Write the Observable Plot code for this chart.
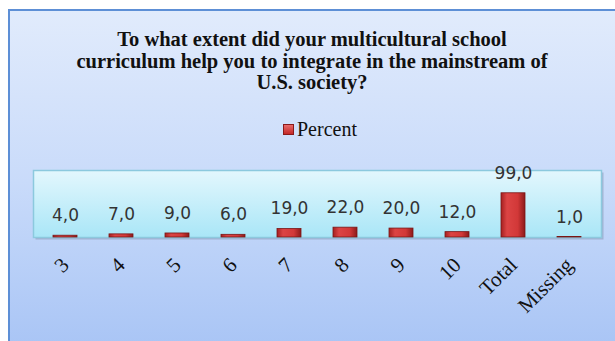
<!DOCTYPE html>
<html>
<head>
<meta charset="utf-8">
<script src="https://cdn.jsdelivr.net/npm/d3@7"></script>
<script src="https://cdn.jsdelivr.net/npm/@observablehq/plot@0.6"></script>
<style>
  html, body { margin: 0; padding: 0; background: #ffffff; }
  #wrap { position: relative; width: 615px; height: 341px; overflow: hidden; }
  #box {
    position: absolute; left: 8px; top: 9px; width: 620px; height: 345px;
    box-sizing: border-box; border: 2px solid #5d8fd6;
    background: linear-gradient(to bottom, #e1ebfc 0%, #c9dbfa 50%, #a8c4f5 100%);
  }
  #title {
    position: absolute; left: 7px; top: 29px; width: 610px; text-align: center;
    font-family: "Times New Roman", "Liberation Serif", "DejaVu Serif", serif; font-weight: bold; font-size: 20.5px;
    line-height: 21.5px; color: #111;
  }
  #legend {
    position: absolute; left: 283px; top: 119px; height: 20px;
    font-family: "Times New Roman", "Liberation Serif", "DejaVu Serif", serif; font-size: 20px; color: #111;
    display: flex; align-items: center;
  }
  #legend .sw {
    width: 11px; height: 11px; margin-right: 3px; box-sizing: border-box;
    background: linear-gradient(to bottom, #e86a6a, #c42828); border: 1px solid #8a1a1a;
  }
  #chart { position: absolute; left: 0; top: 150px; }
</style>
</head>
<body>
<div id="wrap">
  <div id="box"></div>
  <div id="title">To what extent did your multicultural school<br>curriculum help you to integrate in the mainstream of<br>U.S. society?</div>
  <div id="legend"><span class="sw"></span><span>Percent</span></div>
  <div id="chart"></div>
</div>
<script>
const categories = ["3", "4", "5", "6", "7", "8", "9", "10", "Total", "Missing"];
const percent = [4.0, 7.0, 9.0, 6.0, 19.0, 22.0, 20.0, 12.0, 99.0, 1.0];
const seriesName = "Percent";

const data = categories.map((c, i) => ({category: c, value: percent[i]}));
const fmt = v => v.toFixed(1).replace(".", ",");

const defs = () => {
  const d = d3.create("svg:defs");
  const pg = d.append("linearGradient").attr("id", "pg").attr("x1", 0).attr("y1", 0).attr("x2", 0).attr("y2", 1);
  pg.append("stop").attr("offset", "0%").attr("stop-color", "#e3f7fd");
  pg.append("stop").attr("offset", "100%").attr("stop-color", "#a9e6f7");
  const bg = d.append("linearGradient").attr("id", "bg").attr("x1", 0).attr("y1", 0).attr("x2", 1).attr("y2", 0);
  bg.append("stop").attr("offset", "0%").attr("stop-color", "#a52020");
  bg.append("stop").attr("offset", "25%").attr("stop-color", "#dc4444");
  bg.append("stop").attr("offset", "70%").attr("stop-color", "#d23838");
  bg.append("stop").attr("offset", "100%").attr("stop-color", "#8c1a1a");
  return d.node();
};

const serif = "'Times New Roman', 'Liberation Serif', 'DejaVu Serif', serif";

const chart = Plot.plot({
  width: 615,
  height: 191,
  marginLeft: 33,
  marginRight: 14,
  marginTop: 20,
  marginBottom: 104,
  style: {background: "transparent", overflow: "visible"},
  x: {domain: categories, paddingInner: 0.58, paddingOuter: 0.29, label: null},
  y: {domain: [0, 150], axis: null},
  marks: [
    defs,
    Plot.frame({fill: "#8796b5", fillOpacity: 0.55, dx: 2, dy: 2}),
    Plot.frame({fill: "url(#pg)", stroke: "#8cc9de", strokeWidth: 1.5}),
    Plot.barY(data, {x: "category", y: "value", fill: "url(#bg)", stroke: "#7a1515", strokeWidth: 0.8}),
    Plot.text(data, {x: "category", y: "value", text: d => fmt(d.value), dy: -20,
      fontFamily: "DejaVu Sans", fontSize: 17, fill: "#333"}),
    Plot.axisX({tickSize: 0, tickPadding: 24, tickRotate: -45, fontFamily: serif,
      fontSize: 21, color: "#111", label: null})
  ]
});
document.getElementById("chart").appendChild(chart);
</script>
</body>
</html>
